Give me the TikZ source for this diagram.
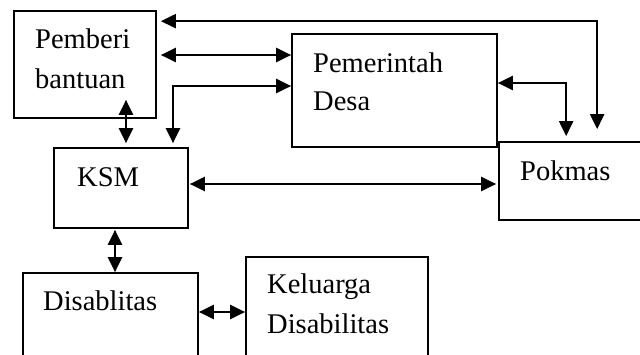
\documentclass[tikz,border=0pt]{standalone}
\usepackage{fontspec}
\setmainfont{Liberation Serif}
\usetikzlibrary{arrows.meta}

\begin{document}
\begin{tikzpicture}[
        x=1pt, y=-1pt, % ukuran dalam piksel gambar, sumbu y ke bawah
        font=\fontsize{28.5}{40}\selectfont,
        % --- gaya ---
        kotak/.style={draw, rectangle, line width=1.7pt, inner sep=0pt},
        teks/.style={anchor=base west, align=left, inner sep=0pt}, % base = garis dasar baris terakhir
        panah/.style={{Triangle[length=15pt, width=14pt]}-{Triangle[length=15pt, width=14pt]}, line width=2.2pt},
    ]
        \path[use as bounding box, clip] (0,0) rectangle (640,354);

        % --- 1. Kotak ---
        \node[kotak, minimum width=142pt, minimum height=107pt] (pmb) at (85,64.5) {};
        \node[kotak, minimum width=205pt, minimum height=113pt] (pmr) at (394.5,90.5) {};
        \node[kotak, minimum width=161pt, minimum height=78pt] (pok) at (579.5,181) {};
        \node[kotak, minimum width=134pt, minimum height=80pt] (ksm) at (121,188) {};
        \node[kotak, minimum width=175pt, minimum height=107pt] (dis) at (110.5,326.5) {};
        \node[kotak, minimum width=182pt, minimum height=123pt] (kel) at (337,318.5) {};

        % --- 2. Tulisan ---
        \node[teks] (pmbtxt) at (35,88) {Pemberi\\bantuan};
        \node[teks, font=\fontsize{28.5}{38}\selectfont] (pmrtxt) at (313,110) {Pemerintah\\Desa};
        \node[teks] (ksmtxt) at (77,186) {KSM};
        \node[teks] (poktxt) at (520,180) {Pokmas};
        \node[teks] (distxt) at (43,310) {Disablitas};
        \node[teks] (keltxt) at (267,333) {Keluarga\\Disabilitas};

        % --- 3. Titik awal panah ---
        \coordinate (a1) at ([shift={(4,11)}]pmb.north east);
        \coordinate (a2) at ([shift={(4,-9.5)}]pmb.east);
        \coordinate (a3) at ([shift={(52,-4)}]ksm.north);
        \coordinate (a4) at ([shift={(41,-19)}]pmb.south);
        \coordinate (a5) at ([shift={(0,-7.5)}]pmr.east);
        \coordinate (a6) at ([shift={(1,-4)}]ksm.east);
        \coordinate (a7) at ([shift={(-6,1)}]ksm.south);
        \coordinate (a8) at ([shift={(0,-14.5)}]dis.east);

        % --- 4. Panah ---
        \draw[panah] (a1) -| ([shift={(99,-12)}]pok.north west);
        \draw[panah] (a2) -- (a2 -| pmr.west);
        \draw[panah] (a3) |- ([shift={(0,-4.5)}]pmr.west);
        \draw[panah, shorten >=4pt] (a4) -- (a4 |- ksm.north);
        \draw[panah] (a5) -| ([shift={(68,-5)}]pok.north west);
        \draw[panah, shorten >=2pt] (a6) -- (a6 -| pok.west);
        \draw[panah] (a7) -- (a7 |- dis.north);
        \draw[panah] (a8) -- (a8 -| kel.west);
    \end{tikzpicture}
\end{document}
